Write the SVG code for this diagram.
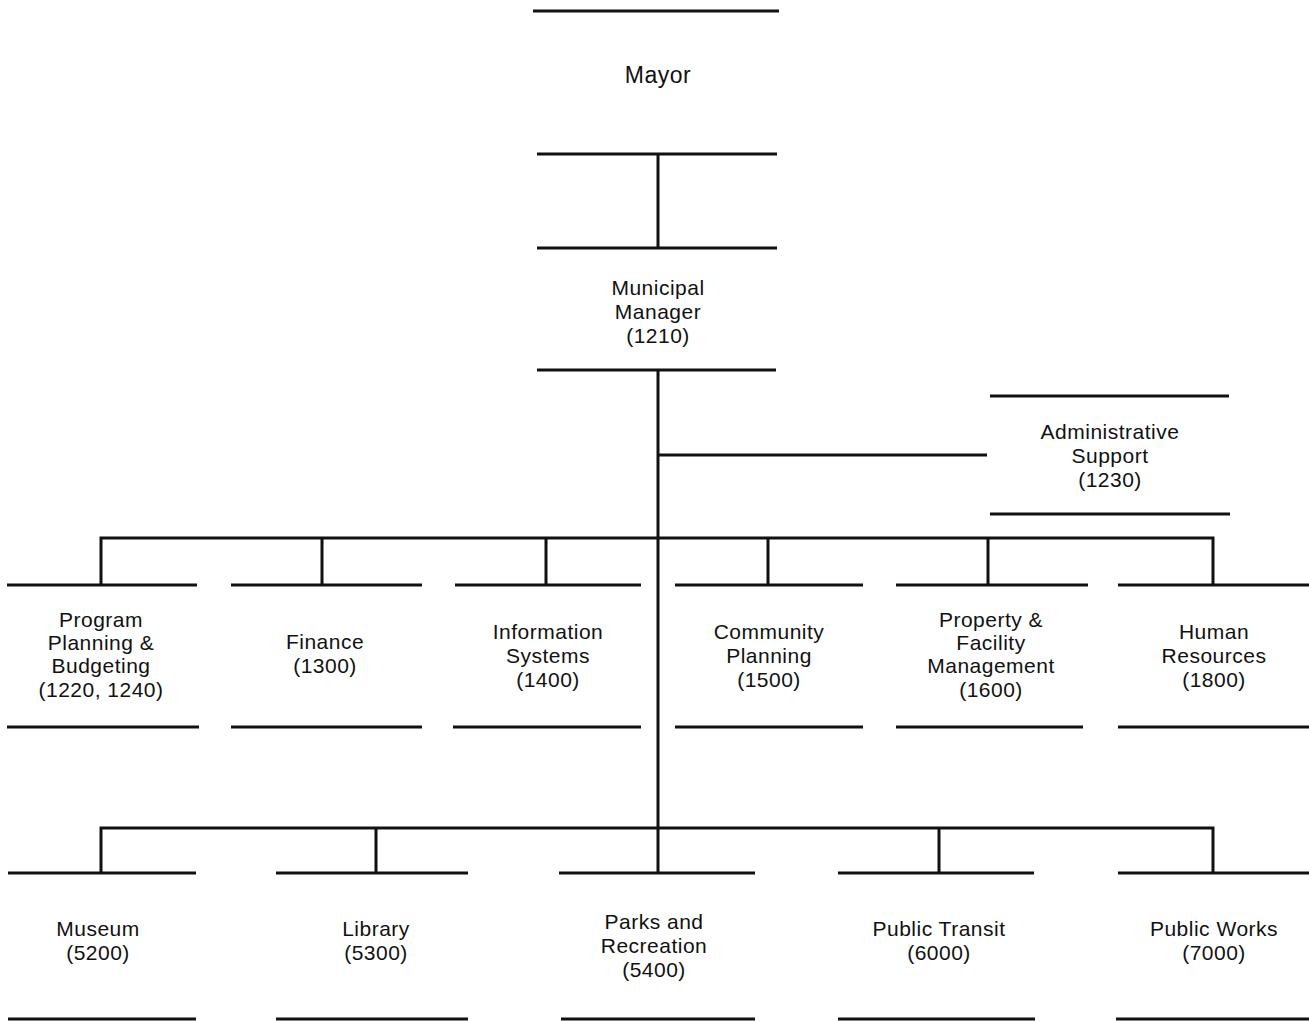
<svg xmlns="http://www.w3.org/2000/svg" width="1309" height="1021" viewBox="0 0 1309 1021">
<style>
.ln{stroke:#111;stroke-width:3;fill:none;stroke-linecap:butt}
.cn{stroke:#111;stroke-width:3;fill:none}
text{font-family:"Liberation Sans",Arial,sans-serif;font-size:21px;letter-spacing:0.5px;fill:#111;text-anchor:middle}
</style>
<rect width="1309" height="1021" fill="#fff"/>
<g id="connectors">
<path class="cn" d="M658,154V248"/>
<path class="cn" d="M658,370V873"/>
<path class="cn" d="M658,455H987"/>
<path class="cn" d="M101,585V538H1213V585"/>
<path class="cn" d="M322,538V585M546,538V585M768,538V585M988,538V585"/>
<path class="cn" d="M101,873V828H1213V873"/>
<path class="cn" d="M376,828V873M939,828V873"/>
</g>
<g id="mayor">
<path class="ln" d="M533,11H779M537,154H777"/>
<text x="658" y="83" style="font-size:23px">Mayor</text>
</g>
<g id="municipal-manager">
<path class="ln" d="M537,248H777M537,370H776"/>
<text x="658" y="295">Municipal</text>
<text x="658" y="319">Manager</text>
<text x="658" y="343">(1210)</text>
</g>
<g id="administrative-support">
<path class="ln" d="M990,396H1229M990,514H1230"/>
<text x="1110" y="439">Administrative</text>
<text x="1110" y="463">Support</text>
<text x="1110" y="487">(1230)</text>
</g>
<g id="program-planning">
<path class="ln" d="M7,585H197M7,727H199"/>
<text x="101" y="627">Program</text>
<text x="101" y="650">Planning &amp;</text>
<text x="101" y="673">Budgeting</text>
<text x="101" y="697">(1220, 1240)</text>
</g>
<g id="finance">
<path class="ln" d="M231,585H422M231,727H422"/>
<text x="325" y="649">Finance</text>
<text x="325" y="673">(1300)</text>
</g>
<g id="information-systems">
<path class="ln" d="M455,585H641M453,727H641"/>
<text x="548" y="639">Information</text>
<text x="548" y="663">Systems</text>
<text x="548" y="687">(1400)</text>
</g>
<g id="community-planning">
<path class="ln" d="M675,585H863M675,727H863"/>
<text x="769" y="639">Community</text>
<text x="769" y="663">Planning</text>
<text x="769" y="687">(1500)</text>
</g>
<g id="property-facility">
<path class="ln" d="M896,585H1088M896,727H1083"/>
<text x="991" y="627">Property &amp;</text>
<text x="991" y="650">Facility</text>
<text x="991" y="673">Management</text>
<text x="991" y="697">(1600)</text>
</g>
<g id="human-resources">
<path class="ln" d="M1118,585H1309M1118,727H1309"/>
<text x="1214" y="639">Human</text>
<text x="1214" y="663">Resources</text>
<text x="1214" y="687">(1800)</text>
</g>
<g id="museum">
<path class="ln" d="M8,873H196M8,1019H196"/>
<text x="98" y="936">Museum</text>
<text x="98" y="960">(5200)</text>
</g>
<g id="library">
<path class="ln" d="M276,873H468M276,1019H468"/>
<text x="376" y="936">Library</text>
<text x="376" y="960">(5300)</text>
</g>
<g id="parks-recreation">
<path class="ln" d="M559,873H755M561,1019H755"/>
<text x="654" y="929">Parks and</text>
<text x="654" y="953">Recreation</text>
<text x="654" y="977">(5400)</text>
</g>
<g id="public-transit">
<path class="ln" d="M838,873H1034M838,1019H1035"/>
<text x="939" y="936">Public Transit</text>
<text x="939" y="960">(6000)</text>
</g>
<g id="public-works">
<path class="ln" d="M1118,873H1309M1116,1019H1309"/>
<text x="1214" y="936">Public Works</text>
<text x="1214" y="960">(7000)</text>
</g>
</svg>
